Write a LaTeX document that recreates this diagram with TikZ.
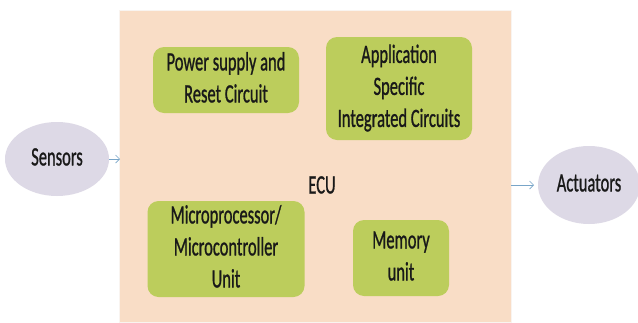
\documentclass[tikz,border=0pt]{standalone}
\usepackage{fontspec}
\setmainfont{Carlito}[FakeBold=1.2]
\usepackage{graphicx}
\usetikzlibrary{arrows.meta,shapes.geometric}
\definecolor{ecufill}{RGB}{249,221,198}
\definecolor{boxfill}{RGB}{188,205,92}
\definecolor{ellfill}{RGB}{221,217,230}
\definecolor{arrowc}{RGB}{120,165,200}
\newcommand{\tall}[1]{\scalebox{1}[1.6]{\begin{tabular}{@{}c@{}}#1\end{tabular}}}
\tikzset{
  unitbox/.style={rectangle, rounded corners=11pt, fill=boxfill, draw=none, inner sep=0pt, align=center},
  ellnode/.style={ellipse, fill=ellfill, draw=none, inner sep=0pt},
  flowarrow/.style={draw=arrowc, line width=0.7pt, -{Straight Barb[length=4pt,width=8pt]}},
  every node/.style={font=\fontsize{16.5}{20}\selectfont, text=black!90}
}
\begin{document}
\begin{tikzpicture}[x=1pt,y=-1pt]
\useasboundingbox (0,0) rectangle (638,322);
\fill[white] (0,0) rectangle (638,322);
\node[rectangle, fill=ecufill, draw=ecufill!90!black!20, minimum width=392pt, minimum height=312pt, inner sep=0pt] (ecu) at (315,166) {};
\node (ecul) at (322,187) {\tall{ECU}};
\node[unitbox, minimum width=146pt, minimum height=66pt] (power) at (226,80) {\tall{Power supply and\\Reset Circuit}};
\node[unitbox, minimum width=146pt, minimum height=103pt] (asic) at (399,88.5) {\tall{Application\\Specific\\Integrated Circuits}};
\node[unitbox, minimum width=157pt, minimum height=94pt] (micro) at (226,249) {\tall{Microprocessor/\\Microcontroller\\Unit}};
\node[unitbox, minimum width=96pt, minimum height=76pt] (mem) at (401,258) {\tall{Memory\\unit}};
\node[ellnode, minimum width=104pt, minimum height=74pt] (sens) at (57,159) {\tall{Sensors}};
\node[ellnode, minimum width=102pt, minimum height=78pt] (act) at (589,185) {\tall{Actuators}};
\coordinate (sensend) at (120,159);
\coordinate (actstart) at (511,185);
\coordinate (actend) at (534,185);
\draw[flowarrow] (sens.east) -- (sensend);
\draw[flowarrow] (actstart) -- (actend);
\end{tikzpicture}
\end{document}
